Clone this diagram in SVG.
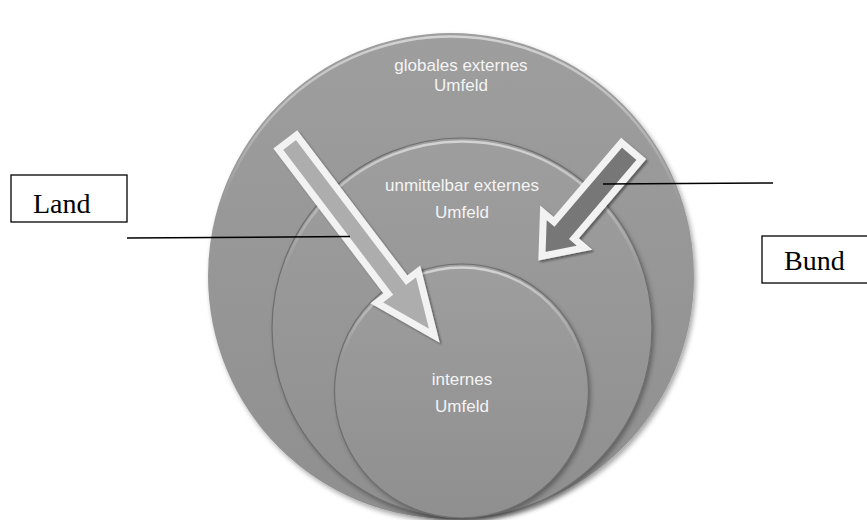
<svg xmlns="http://www.w3.org/2000/svg" width="867" height="520" viewBox="0 0 867 520">
<style>
.ct{font-family:"Liberation Sans",Arial,sans-serif;font-size:17px;fill:#f4f4f4;text-anchor:middle}
.bt{font-family:"Liberation Serif","Times New Roman",serif;font-size:28px;fill:#000}
.box{fill:#fff;stroke:#000;stroke-width:1.3}
.ln{stroke:#000;stroke-width:1.5;fill:none}
.arr{stroke:#f2f2f2;stroke-width:7;stroke-linejoin:miter;stroke-miterlimit:10}
.edge{fill:none;stroke:#6e6e6e;stroke-width:1.2}
.hl{fill:none;stroke:url(#hl);stroke-width:2.5}
</style>
<defs>
<linearGradient id="cf" x1="0" y1="0" x2="0" y2="1">
<stop offset="0" stop-color="#9e9e9e"/>
<stop offset="1" stop-color="#8f8f8f"/>
</linearGradient>
<linearGradient id="hl" x1="0" y1="0" x2="0" y2="1">
<stop offset="0" stop-color="#ffffff" stop-opacity="0.55"/>
<stop offset="0.35" stop-color="#ffffff" stop-opacity="0"/>
</linearGradient>
<filter id="sh" x="-10%" y="-10%" width="125%" height="125%">
<feDropShadow dx="2" dy="3" stdDeviation="2.5" flood-color="#000" flood-opacity="0.35"/>
</filter>
<filter id="ash" x="-20%" y="-20%" width="140%" height="140%">
<feDropShadow dx="2" dy="2" stdDeviation="1.2" flood-color="#000" flood-opacity="0.4"/>
</filter>
</defs>
<rect width="867" height="520" fill="#fff"/>

<g id="outer">
<circle cx="451" cy="276" r="243" fill="url(#cf)" filter="url(#sh)"/>
<circle cx="451" cy="277.5" r="241" class="hl"/>
<text class="ct" x="461" y="71">globales externes</text>
<text class="ct" x="461" y="91">Umfeld</text>
</g>

<g id="middle">
<circle cx="462" cy="328" r="190" fill="url(#cf)" filter="url(#sh)"/>
<circle cx="462" cy="328" r="190" class="edge"/>
<circle cx="462" cy="329.5" r="188" class="hl"/>
<text class="ct" x="462" y="191">unmittelbar externes</text>
<text class="ct" x="462" y="218">Umfeld</text>
</g>

<g id="inner">
<circle cx="461.5" cy="391" r="127" fill="url(#cf)" filter="url(#sh)"/>
<circle cx="461.5" cy="391" r="127" class="edge"/>
<circle cx="461.5" cy="392.5" r="125" class="hl"/>
<text class="ct" x="462" y="385">internes</text>
<text class="ct" x="462" y="412">Umfeld</text>
</g>

<g id="arrow-land" filter="url(#ash)">
<polygon class="arr" fill="#adadad" transform="translate(285,139) rotate(52.8)" points="4,-11.5 186,-11.5 186,-26 247,0 186,26 186,11.5 4,11.5"/>
</g>

<g id="arrow-bund" filter="url(#ash)">
<polygon class="arr" fill="#777777" transform="translate(634,148) rotate(130.4)" points="4,-13 108,-13 108,-27 142,0 108,27 108,13 4,13"/>
</g>

<g id="land">
<rect class="box" x="11" y="175" width="116" height="47"/>
<text class="bt" x="33" y="213">Land</text>
</g>

<g id="bund">
<rect class="box" x="762" y="236" width="110" height="47"/>
<text class="bt" x="784" y="270">Bund</text>
</g>

<g id="connectors">
<line class="ln" x1="127" y1="238" x2="350" y2="236.5"/>
<line class="ln" x1="603" y1="184" x2="773" y2="183"/>
</g>
</svg>
